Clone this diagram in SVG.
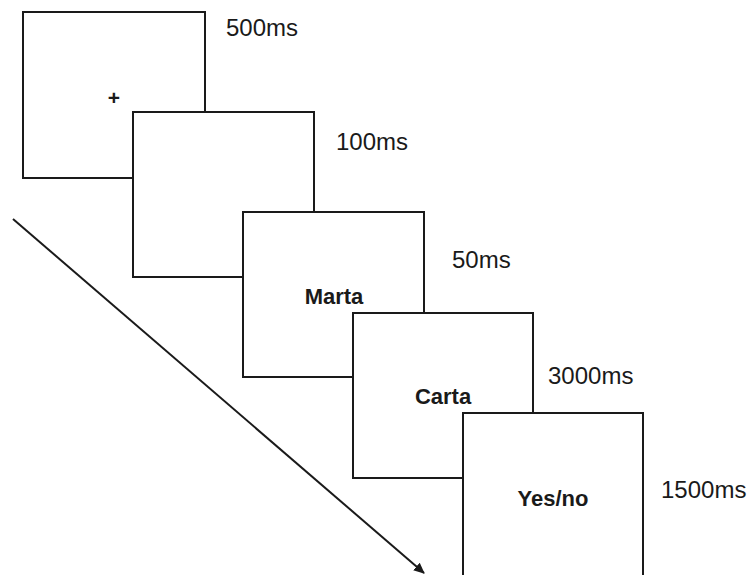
<svg xmlns="http://www.w3.org/2000/svg" width="750" height="575" viewBox="0 0 750 575">
<defs>
<style>
.box{fill:#ffffff;stroke:#1a1a1a;stroke-width:2}
.lbl{font-family:"Liberation Sans",Arial,sans-serif;font-size:24px;fill:#1a1a1a}
.stim{font-family:"Liberation Sans",Arial,sans-serif;font-size:22px;font-weight:bold;fill:#1a1a1a;text-anchor:middle}
.fix{font-family:"Liberation Sans",Arial,sans-serif;font-size:21px;font-weight:bold;fill:#1a1a1a;text-anchor:middle}
</style>
<marker id="ah" markerWidth="11" markerHeight="10" refX="10" refY="5" orient="auto" markerUnits="userSpaceOnUse">
<path d="M0,0 L11,5 L0,10 Z" fill="#1a1a1a"/>
</marker>
</defs>
<rect width="750" height="575" fill="#ffffff"/>
<g id="connectors">
<line x1="13" y1="219" x2="424" y2="573" stroke="#1a1a1a" stroke-width="2" marker-end="url(#ah)"/>
</g>
<g id="screen1">
<rect class="box" x="23" y="12" width="182" height="166"/>
<text class="fix" x="114" y="105">+</text>
<text class="lbl" x="226" y="36">500ms</text>
</g>
<g id="screen2">
<rect class="box" x="133" y="112" width="181" height="165"/>
<text class="lbl" x="336" y="150">100ms</text>
</g>
<g id="screen3">
<rect class="box" x="243" y="212" width="181" height="165"/>
<text class="stim" x="334" y="304">Marta</text>
<text class="lbl" x="452" y="268">50ms</text>
</g>
<g id="screen4">
<rect class="box" x="353" y="313" width="180" height="165"/>
<text class="stim" x="443" y="404">Carta</text>
<text class="lbl" x="548" y="384">3000ms</text>
</g>
<g id="screen5">
<rect class="box" x="463" y="413" width="180" height="170"/>
<text class="stim" x="553" y="506">Yes/no</text>
<text class="lbl" x="661" y="498">1500ms</text>
</g>
</svg>
